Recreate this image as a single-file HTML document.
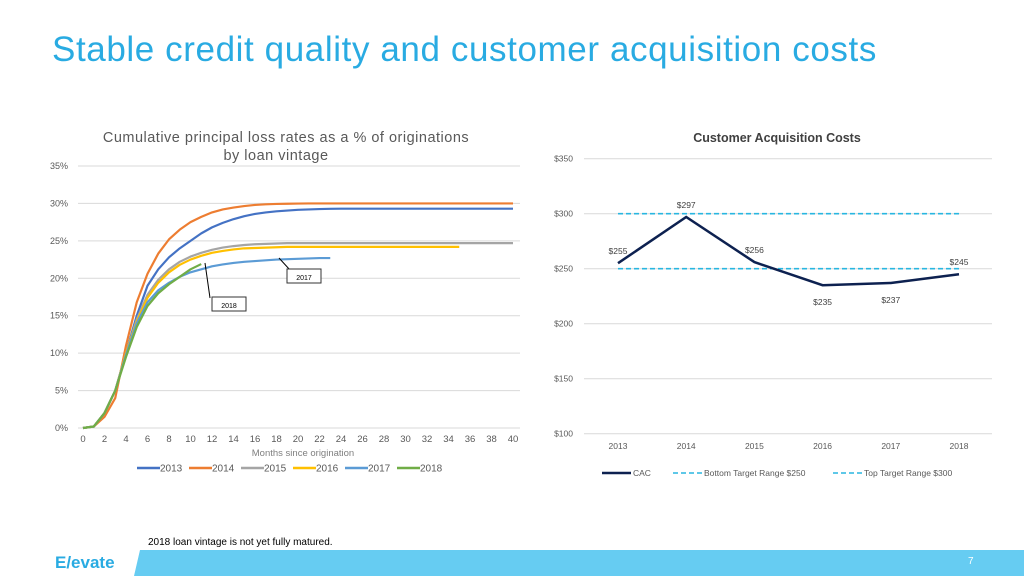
<!DOCTYPE html>
<html><head><meta charset="utf-8">
<style>
body{margin:0;width:1024px;height:576px;overflow:hidden;background:#fff;font-family:"Liberation Sans",sans-serif;position:relative}
#title{position:absolute;left:52px;top:30px;font-size:35px;color:#29abe2;letter-spacing:0.6px;white-space:nowrap}
#note{position:absolute;left:148px;top:537px;font-size:10px;color:#000}
#footer{position:absolute;left:0;top:550px;width:1024px;height:26px}
</style></head><body>
<div id="title">Stable credit quality and customer acquisition costs</div>
<svg id="chart" width="1024" height="576" style="position:absolute;left:0;top:0"></svg>
<div id="note">2018 loan vintage is not yet fully matured.</div>
<svg id="footer" width="1024" height="26">
<polygon points="140,0 1024,0 1024,26 134,26" fill="#66ccf2"/>
<text x="55" y="18" font-size="17" font-weight="bold" fill="#29abe2" font-family="Liberation Sans, sans-serif">E/evate</text>
<text x="968" y="14" font-size="10" fill="#fff" font-family="Liberation Sans, sans-serif">7</text>
</svg>
<script>
const vintages=["2013","2014","2015","2016","2017","2018"];
const vintageColors=["#4472c4","#ed7d31","#a5a5a5","#ffc000","#5b9bd5","#70ad47"];
const v2013=[0,0.2,2,5,10,15,19,21.2,22.8,24,25,26,26.8,27.4,27.9,28.3,28.6,28.8,28.95,29.05,29.15,29.2,29.25,29.28,29.3,29.3,29.3,29.3,29.3,29.3,29.3,29.3,29.3,29.3,29.3,29.3,29.3,29.3,29.3,29.3,29.3];
const v2014=[0,0.2,1.5,4,11,16.8,20.6,23.3,25.2,26.5,27.5,28.2,28.8,29.2,29.45,29.65,29.8,29.88,29.93,29.96,29.98,30,30,30,30,30,30,30,30,30,30,30,30,30,30,30,30,30,30,30,30];
const v2015=[0,0.2,2,5,10,14.5,17.8,19.8,21.2,22.2,22.9,23.4,23.8,24.1,24.3,24.45,24.55,24.6,24.65,24.7,24.7,24.7,24.7,24.7,24.7,24.7,24.7,24.7,24.7,24.7,24.7,24.7,24.7,24.7,24.7,24.7,24.7,24.7,24.7,24.7,24.7];
const v2016=[0,0.2,2,5,10,14.2,17.4,19.4,20.8,21.8,22.5,23,23.4,23.65,23.85,24,24.05,24.1,24.15,24.2,24.2,24.2,24.2,24.2,24.2,24.2,24.2,24.2,24.2,24.2,24.2,24.2,24.2,24.2,24.2,24.2];
const v2017=[0,0.2,2,5,9.8,14,16.8,18.4,19.4,20.2,20.8,21.2,21.6,21.85,22.05,22.2,22.3,22.4,22.5,22.55,22.6,22.65,22.7,22.7];
const v2018=[0,0.2,2,5,9.5,13.5,16.3,18,19.2,20.2,21.2,21.9];
const vintageSeries=[v2013,v2014,v2015,v2016,v2017,v2018];
const lossTicks=[0,5,10,15,20,25,30,35];
const monthTicks=[0,2,4,6,8,10,12,14,16,18,20,22,24,26,28,30,32,34,36,38,40];
const cacYears=["2013","2014","2015","2016","2017","2018"];
const cacValues=[255,297,256,235,237,245];
const cacLow=[250,250,250,250,250,250];
const cacHigh=[300,300,300,300,300,300];
const cacTicks=[100,150,200,250,300,350];

const NS="http://www.w3.org/2000/svg";
const svg=document.getElementById('chart');
function mk(tag,attrs,parent,text){const e=document.createElementNS(NS,tag);for(const k in attrs)e.setAttribute(k,attrs[k]);if(text!==undefined)e.textContent=text;(parent||svg).appendChild(e);return e;}

// Left chart
const lx=m=>83+m*(430/40);
const ly=v=>428-v*(262/35);
const t1=mk('text',{x:286,y:142,'font-size':14.5,'letter-spacing':0.5,fill:'#595959','text-anchor':'middle'},svg,'Cumulative principal loss rates as a % of originations');


const t1b=mk('text',{x:276,y:160,'font-size':14.5,'letter-spacing':0.5,fill:'#595959','text-anchor':'middle'},svg,'by loan vintage');


lossTicks.forEach(t=>{
  const g=mk('line',{x1:78,x2:520,y1:ly(t),y2:ly(t),stroke:'#d9d9d9','stroke-width':1});
  
  
  const l=mk('text',{x:68,y:ly(t)+3,'font-size':9,fill:'#595959','text-anchor':'end'},svg,t+'%');
  
  
});
monthTicks.forEach(m=>{
  const l=mk('text',{x:lx(m),y:442,'font-size':9.5,fill:'#595959','text-anchor':'middle'},svg,String(m));
  
  
});
const xt=mk('text',{x:303,y:456,'font-size':9.5,fill:'#7f7f7f','text-anchor':'middle'},svg,'Months since origination');


vintageSeries.forEach((s,i)=>{
  const p=mk('polyline',{points:s.map((v,m)=>lx(m)+','+ly(v)).join(' '),fill:'none',stroke:vintageColors[i],'stroke-width':2.2,'stroke-linejoin':'round'});
  
  
  const lg=mk('line',{x1:137+i*52,x2:160+i*52,y1:468,y2:468,stroke:vintageColors[i],'stroke-width':2.5});
  
  
  const lt=mk('text',{x:160+i*52,y:471.5,'font-size':10,fill:'#595959'},svg,vintages[i]);
  
  
});
// callouts
mk('line',{x1:279,y1:258,x2:290,y2:270,stroke:'#000','stroke-width':1});
const b17=mk('rect',{x:287,y:269,width:34,height:14,fill:'#fff',stroke:'#333'});


mk('text',{x:304,y:280,'font-size':7,fill:'#000','text-anchor':'middle'},svg,'2017');
mk('line',{x1:205,y1:263,x2:210,y2:298,stroke:'#000','stroke-width':1});
const b18=mk('rect',{x:212,y:297,width:34,height:14,fill:'#fff',stroke:'#333'});


mk('text',{x:229,y:308,'font-size':7,fill:'#000','text-anchor':'middle'},svg,'2018');

// Right chart
const rx=i=>618+i*68.2;
const ry=v=>433.7-(v-100)*(275/250);
const t2=mk('text',{x:777,y:142,'font-size':12.5,'font-weight':'bold',fill:'#404040','text-anchor':'middle'},svg,'Customer Acquisition Costs');


cacTicks.forEach(t=>{
  const g=mk('line',{x1:584,x2:992,y1:ry(t),y2:ry(t),stroke:'#d9d9d9','stroke-width':1});
  
  
  const l=mk('text',{x:573,y:ry(t)+3,'font-size':8.5,fill:'#595959','text-anchor':'end'},svg,'$'+t);
  
  
});
cacYears.forEach((y,i)=>{
  const l=mk('text',{x:rx(i),y:449,'font-size':8.5,fill:'#595959','text-anchor':'middle'},svg,y);
  
  
});
[cacLow,cacHigh].forEach((s,k)=>{
  const p=mk('polyline',{points:s.map((v,i)=>rx(i)+','+ry(v)).join(' '),fill:'none',stroke:'#29b6e0','stroke-width':1.6,'stroke-dasharray':'5,3'});
  
  
});
const cl=mk('polyline',{points:cacValues.map((v,i)=>rx(i)+','+ry(v)).join(' '),fill:'none',stroke:'#0d2150','stroke-width':2.5});


cacValues.forEach((v,i)=>{
  const below=(i===3||i===4);
  const l=mk('text',{x:rx(i),y:below?ry(v)+20:ry(v)-9,'font-size':8.5,fill:'#404040','text-anchor':'middle'},svg,'$'+v);
  
  
});
const leg=[['CAC',602,'#0d2150',false],['Bottom Target Range $250',673,'#29b6e0',true],['Top Target Range $300',833,'#29b6e0',true]];
leg.forEach(e=>{
  const ln=mk('line',{x1:e[1],x2:e[1]+29,y1:473,y2:473,stroke:e[2],'stroke-width':e[3]?1.6:2.5,'stroke-dasharray':e[3]?'5,3':'none'});
  
  
  const t=mk('text',{x:e[1]+31,y:476,'font-size':8.5,fill:'#595959'},svg,e[0]);
  
  
});
</script>
</body></html>
